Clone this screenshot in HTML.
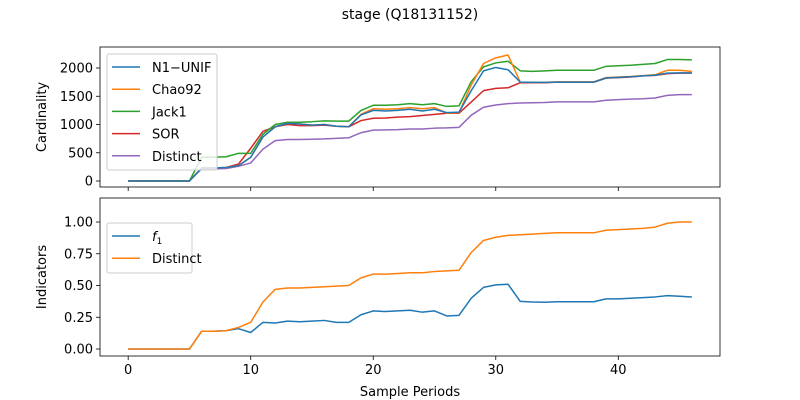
<!DOCTYPE html>
<html><head><meta charset="utf-8"><style>
body{margin:0;background:#fff}
svg{display:block;font-family:"DejaVu Sans","Liberation Sans",sans-serif}
</style></head><body>
<svg id="c" width="800" height="400">
<text x="410" y="19" font-size="14" text-anchor="middle">stage (Q18131152)</text>
</svg>
<script>
const periods=[];for(let i=0;i<47;i++)periods.push(i);
const n1Unif=[0,0,0,0,0,0,230,230,240,270,420,780,960,1020,1010,990,1000,970,960,1170,1250,1240,1250,1270,1240,1270,1210,1220,1600,1950,2010,1970,1750,1745,1745,1750,1750,1750,1750,1825,1835,1845,1860,1875,1910,1915,1915];
const chao92=[0,0,0,0,0,0,230,230,240,270,420,780,960,1020,1010,990,1000,970,960,1180,1280,1270,1280,1300,1280,1300,1200,1210,1700,2080,2180,2230,1750,1745,1745,1755,1755,1755,1755,1830,1840,1850,1865,1880,1960,1960,1940];
const jack1=[0,0,0,0,0,0,420,420,430,490,490,830,1000,1040,1040,1050,1065,1060,1060,1250,1340,1340,1350,1370,1350,1370,1320,1330,1760,2020,2090,2120,1950,1940,1950,1960,1960,1960,1960,2030,2040,2050,2065,2080,2150,2150,2145];
const sor=[0,0,0,0,0,0,230,230,240,300,580,880,960,1000,980,980,990,970,960,1070,1110,1115,1130,1140,1160,1180,1200,1200,1400,1600,1640,1650,1740,1740,1740,1750,1750,1750,1750,1820,1830,1840,1860,1870,1900,1910,1910];
const distinctCount=[5,5,5,5,5,5,215,215,222,260,320,565,715,735,735,740,745,755,765,855,900,905,910,920,920,935,940,950,1165,1305,1345,1370,1380,1385,1390,1400,1400,1400,1400,1430,1440,1450,1455,1470,1515,1530,1530];
const f1=[0,0,0,0,0,0,0.14,0.14,0.145,0.16,0.13,0.21,0.205,0.22,0.215,0.22,0.225,0.21,0.21,0.27,0.3,0.295,0.3,0.305,0.29,0.3,0.26,0.265,0.4,0.485,0.505,0.51,0.375,0.37,0.368,0.372,0.372,0.372,0.372,0.395,0.395,0.4,0.405,0.41,0.42,0.415,0.41];
const distinctFrac=[0,0,0,0,0,0,0.14,0.14,0.145,0.17,0.21,0.37,0.47,0.48,0.48,0.485,0.49,0.495,0.5,0.56,0.59,0.59,0.595,0.6,0.6,0.61,0.615,0.62,0.76,0.855,0.88,0.895,0.9,0.905,0.91,0.915,0.915,0.915,0.915,0.935,0.94,0.945,0.95,0.96,0.99,1.0,1.0];
const xTicks=[0,10,20,30,40];
const yTopTicks=[0,500,1000,1500,2000];
const yBotTicks=[0,0.25,0.5,0.75,1.0];
const yBotLabels=["0.00","0.25","0.50","0.75","1.00"];

const svg=document.getElementById('c');const NS='http://www.w3.org/2000/svg';
function mk(t,a,p){const e=document.createElementNS(NS,t);for(const k in a)e.setAttribute(k,a[k]);(p||svg).appendChild(e);return e;}
const L=100,R=720;
const x=v=>L+(v+2.3)/(50.6)*(R-L);
const yT=v=>187-(v+106)/(2372+106)*140;
const yB=v=>356-(v+0.055)/(1.189+0.055)*158;

function axes(top,bot,yf,ticks,labels,name,title,showX){
  const g=mk('g',{});
  
  
  ticks.forEach((t,i)=>{const yy=yf(t);
    mk('line',{x1:L-4,x2:L,y1:yy,y2:yy,stroke:'#000','stroke-width':0.8},g);
    const tx=mk('text',{x:L-7,y:yy+4.5,'font-size':13,'text-anchor':'end'},g);tx.textContent=labels[i];
    
    
  });
  xTicks.forEach(t=>{const xx=x(t);
    mk('line',{x1:xx,x2:xx,y1:bot,y2:bot+4,stroke:'#000','stroke-width':0.8},g);
    if(showX){const tx=mk('text',{x:xx,y:bot+18,'font-size':13,'text-anchor':'middle'},g);tx.textContent=t;
      
      }
  });
  const yt=mk('text',{x:0,y:0,'font-size':13,'text-anchor':'middle',transform:`translate(46,${(top+bot)/2}) rotate(-90)`},g);
  yt.textContent=title;
  
  
  return g;
}
function line(data,yf,color,name){
  const p=mk('polyline',{points:data.map((v,i)=>x(periods[i])+','+yf(v)).join(' '),fill:'none',stroke:color,'stroke-width':1.5,'stroke-linejoin':'round'});
  
  
}
function legend(items,x0,y0,w){
  const g=mk('g',{});
  
  
  mk('rect',{x:x0,y:y0,width:w,height:items.length*22+6,rx:2,fill:'#fff','fill-opacity':0.8,stroke:'#ccc'},g);
  items.forEach((it,i)=>{const yy=y0+13+i*22.2;
    const e=mk('g',{},g);
    
    
    mk('line',{x1:x0+5,x2:x0+33,y1:yy,y2:yy,stroke:it[1],'stroke-width':1.5},e);
    const t=mk('text',{x:x0+45,y:yy+5,'font-size':13},e);t.innerHTML=it[0];
  });
}
axes(47,187,yT,yTopTicks,yTopTicks.map(String),'top-axes','Cardinality',false);
line(distinctCount,yT,'#9467bd','series-distinct-count');
line(sor,yT,'#d62728','series-sor');
line(jack1,yT,'#2ca02c','series-jack1');
line(chao92,yT,'#ff7f0e','series-chao92');
line(n1Unif,yT,'#1f77b4','series-n1-unif');
mk('rect',{x:L,y:47,width:R-L,height:140,fill:'none',stroke:'#000','stroke-width':0.8});
legend([['N1−UNIF','#1f77b4'],['Chao92','#ff7f0e'],['Jack1','#2ca02c'],['SOR','#d62728'],['Distinct','#9467bd']],107,54,110);
axes(198,356,yB,yBotTicks,yBotLabels,'bottom-axes','Indicators',true);
line(f1,yB,'#1f77b4','series-f1');
line(distinctFrac,yB,'#ff7f0e','series-distinct-fraction');
mk('rect',{x:L,y:198,width:R-L,height:158,fill:'none',stroke:'#000','stroke-width':0.8});
legend([['<tspan font-style="italic">f</tspan><tspan font-size="9" dy="3">1</tspan>','#1f77b4'],['Distinct','#ff7f0e']],107,223,85);
const xl=mk('text',{x:410,y:396,'font-size':13,'text-anchor':'middle'});xl.textContent='Sample Periods';


</script>
</body></html>
